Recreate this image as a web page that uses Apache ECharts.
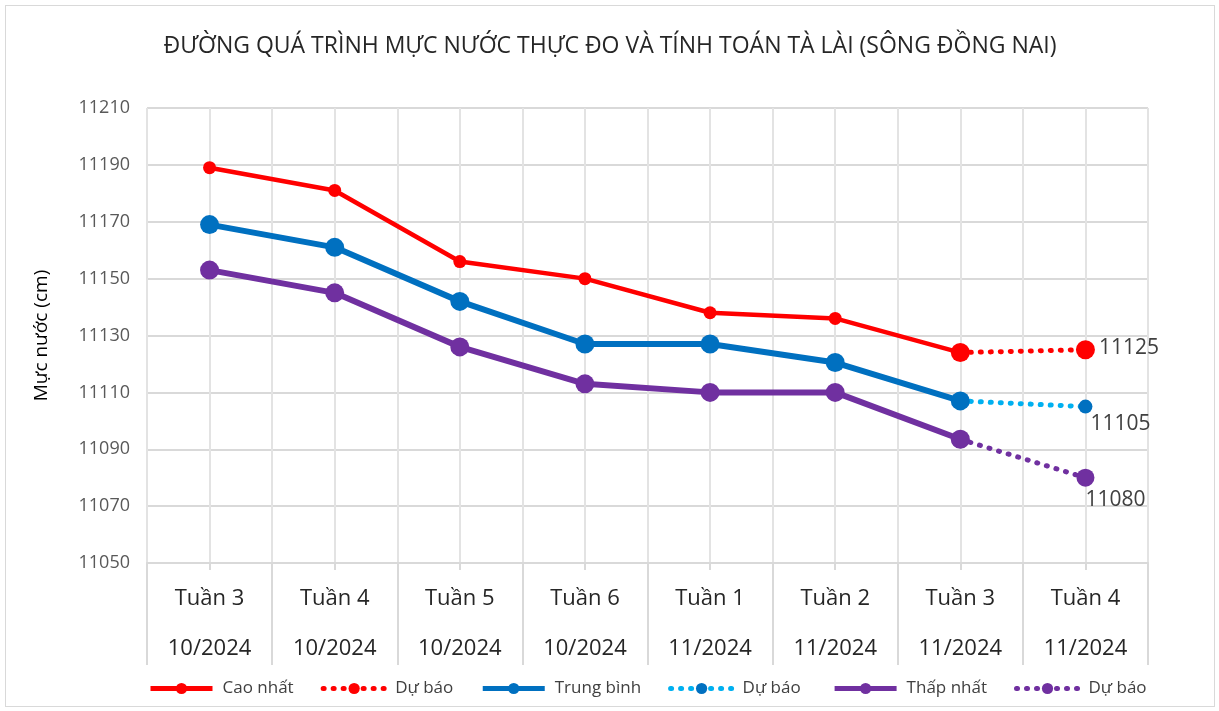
<!doctype html>
<html lang="vi">
  <head>
    <meta charset="UTF-8" />
    <title>Mực nước Tà Lài</title>
    <style>
      html, body { margin: 0; padding: 0; background: #fff; }
      #chart {
        position: absolute;
        left: 5px;
        top: 5px;
        width: 1208px;
        height: 700px;
        border: 1px solid #d9d9d9;
      }
    </style>
  </head>
  <body>
    <div id="chart"></div>

    <script src="https://cdn.jsdelivr.net/npm/echarts@6/dist/echarts.min.js"></script>
    <script>
      // số liệu
      const tuan = ['Tuần 3', 'Tuần 4', 'Tuần 5', 'Tuần 6', 'Tuần 1', 'Tuần 2', 'Tuần 3', 'Tuần 4']
      const thang = ['10/2024', '10/2024', '10/2024', '10/2024', '11/2024', '11/2024', '11/2024', '11/2024']
      const caoNhat = [11189, 11181, 11156, 11150, 11138, 11136, 11124, null]
      const caoNhatDuBao = [null, null, null, null, null, null, 11124, 11125]
      const trungBinh = [11169, 11161, 11142, 11127, 11127, 11120.5, 11107, null]
      const trungBinhDuBao = [null, null, null, null, null, null, 11107, 11105]
      const thapNhat = [11153, 11145, 11126, 11113, 11110, 11110, 11093.5, null]
      const thapNhatDuBao = [null, null, null, null, null, null, 11093.5, 11080]
      const yTicks = { min: 11050, max: 11210, interval: 20 }

      const categories = tuan.map((t, i) => t + '\n' + thang[i])
      const font = 'Open Sans, Noto Sans, sans-serif'
      const dotted = { type: [1, 9], cap: 'round', width: 5 }

      const lastLabel = (pos, offset) => ({
        show: true,
        position: pos,
        offset: offset,
        distance: 4,
        color: '#404040',
        fontSize: 21,
        fontFamily: font,
        formatter: p => (p.dataIndex === 7 ? p.value : '')
      })

      const myChart = echarts.init(document.querySelector('#chart'))
      const option = {
        animation: false,
        title: {
          text: 'ĐƯỜNG QUÁ TRÌNH MỰC NƯỚC THỰC ĐO VÀ TÍNH TOÁN TÀ LÀI (SÔNG ĐỒNG NAI)',
          left: 'center',
          top: 24,
          textStyle: {
            fontFamily: font,
            fontWeight: 'normal',
            fontSize: 23,
            color: '#262626'
          }
        },
        legend: {
          left: 137,
          top: 669,
          itemWidth: 62,
          itemHeight: 14,
          itemGap: 27,
          lineStyle: { width: 5 },
          textStyle: { fontFamily: font, fontSize: 17, color: '#404040', padding: [0, 0, 0, 5] }
        },
        grid: { left: 141, right: 66, top: 102, bottom: 143 },
        xAxis: [
          {
            type: 'category',
            data: categories,
            boundaryGap: true,
            axisLine: { lineStyle: { color: '#d9d9d9', width: 2 } },
            axisTick: { show: true, length: 102, interval: 0, lineStyle: { color: '#d9d9d9', width: 2 } },
            axisLabel: {
              interval: 0,
              margin: 11,
              lineHeight: 50,
              fontSize: 22,
              fontFamily: font,
              color: '#262626'
            },
            splitLine: { show: true, lineStyle: { color: '#e3e3e3', width: 2 } }
          },
          {
            // đường lưới dọc ở giữa mỗi nhóm
            type: 'value',
            min: 0,
            max: 16,
            interval: 1,
            position: 'bottom',
            axisLine: { show: false },
            axisTick: { show: true, length: 7, lineStyle: { color: '#d9d9d9', width: 2 } },
            axisLabel: { show: false },
            splitLine: { show: true, lineStyle: { color: '#e3e3e3', width: 2 } }
          }
        ],
        yAxis: {
          type: 'value',
          min: yTicks.min,
          max: yTicks.max,
          interval: yTicks.interval,
          name: 'Mực nước (cm)',
          nameLocation: 'middle',
          nameGap: 96,
          nameTextStyle: { fontFamily: font, fontSize: 19, color: '#000' },
          axisLine: { show: false },
          axisTick: { show: false },
          axisLabel: {
            margin: 17,
            fontSize: 18,
            fontFamily: font,
            color: '#595959',
            formatter: v => String(v)
          },
          splitLine: { lineStyle: { color: '#d9d9d9', width: 2 } }
        },
        series: [
          {
            name: 'Cao nhất',
            type: 'line',
            data: caoNhat,
            color: '#ff0000',
            symbol: 'circle',
            symbolSize: 13,
            lineStyle: { width: 4.5 },
            z: 5
          },
          {
            name: 'Dự báo',
            type: 'line',
            data: caoNhatDuBao,
            color: '#ff0000',
            symbol: 'circle',
            symbolSize: 19,
            lineStyle: dotted,
            label: lastLabel('right', [0, -2]),
            z: 5
          },
          {
            name: 'Trung bình',
            type: 'line',
            data: trungBinh,
            color: '#0070c0',
            symbol: 'circle',
            symbolSize: 19,
            lineStyle: { width: 6 },
            z: 4
          },
          {
            name: 'Dự báo ',
            type: 'line',
            data: trungBinhDuBao,
            color: '#00b0f0',
            itemStyle: { color: '#0070c0' },
            symbol: 'circle',
            symbolSize: 14,
            lineStyle: Object.assign({}, dotted, { color: '#00b0f0' }),
            label: lastLabel('bottom', [35, -4]),
            z: 3
          },
          {
            name: 'Thấp nhất',
            type: 'line',
            data: thapNhat,
            color: '#7030a0',
            symbol: 'circle',
            symbolSize: 19,
            lineStyle: { width: 6 },
            z: 4
          },
          {
            name: 'Dự báo  ',
            type: 'line',
            data: thapNhatDuBao,
            color: '#7030a0',
            symbol: 'circle',
            symbolSize: 18,
            lineStyle: dotted,
            label: lastLabel('bottom', [30, -1]),
            z: 3
          }
        ]
      }
      myChart.setOption(option)
    </script>
  </body>
</html>
